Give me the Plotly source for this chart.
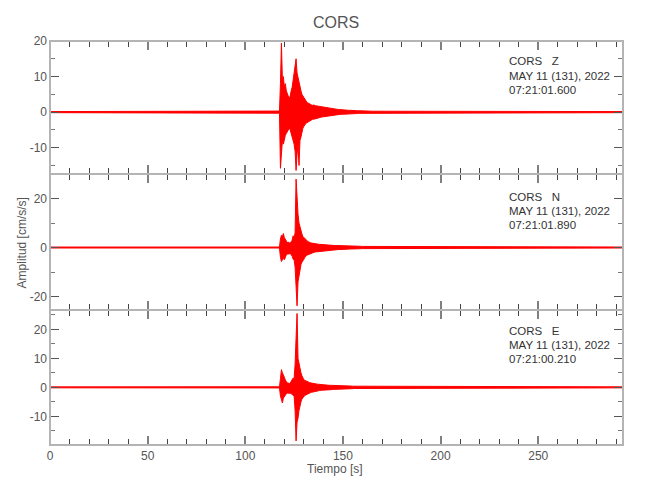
import plotly.graph_objects as go

# ---------------- data ----------------
CHANNELS = ["Z", "N", "E"]
STATION = "CORS"
DATE_TXT = "MAY 11 (131), 2022"
START_TIMES = ["07:21:01.600", "07:21:01.890", "07:21:00.210"]

# sampling grids (s): (start, step, count)
PRE_GRID = (0.0, 5.0, 24)      # quiet pre-event
FINE_GRID = (117.0, 0.5, 36)   # onset and strong motion
COARSE_GRID = (135.0, 1.0, 42)  # coda
POST_GRID = (180.0, 5.0, 24)   # quiet tail

# upper / lower envelope of the trace for each sample (cm/s/s)
Z_PRE_HI = [0.15] * 24
Z_PRE_LO = [-0.15] * 24
Z_FINE_HI = [0.2, 0.3, 8.0, 19.4, 9.0, 10.0, 7.0, 8.0, 6.0, 5.0,
             4.5, 4.0, 4.5, 6.0, 7.0, 9.0, 11.0, 12.5, 15.0, 11.0,
             9.5, 8.0, 7.5, 6.0, 5.0, 4.5, 4.0, 3.5, 3.2, 2.8,
             2.6, 2.4, 2.2, 2.1, 2.0, 1.9]
Z_FINE_LO = [-0.2, -0.3, -15.8, -12.0, -8.0, -9.0, -7.0, -6.5, -6.0, -5.5,
             -5.0, -4.5, -5.0, -6.0, -7.0, -8.0, -9.0, -11.0, -16.4, -12.0,
             -9.0, -15.0, -8.0, -7.0, -5.5, -4.5, -4.0, -3.5, -3.2, -3.0,
             -2.8, -2.6, -2.4, -2.2, -2.1, -2.0]
Z_COARSE_HI = [2.0, 1.8, 1.7, 1.5, 1.4, 1.3, 1.2, 1.1, 1.0, 1.0,
               0.9, 0.8, 0.8, 0.7, 0.7, 0.6, 0.6, 0.5, 0.5, 0.5,
               0.4, 0.4, 0.4, 0.4, 0.35, 0.35, 0.3, 0.3, 0.3, 0.3,
               0.25, 0.25, 0.25, 0.2, 0.2, 0.2, 0.2, 0.2, 0.15, 0.15, 0.15, 0.15]
Z_COARSE_LO = [-2.0, -1.8, -1.6, -1.5, -1.4, -1.3, -1.2, -1.1, -1.0, -1.0,
               -0.9, -0.8, -0.7, -0.7, -0.6, -0.6, -0.6, -0.5, -0.5, -0.5,
               -0.4, -0.4, -0.4, -0.35, -0.35, -0.3, -0.3, -0.3, -0.3, -0.3,
               -0.25, -0.25, -0.2, -0.2, -0.2, -0.2, -0.2, -0.15, -0.15, -0.15, -0.15, -0.15]
Z_POST_HI = [0.15] * 24
Z_POST_LO = [-0.15] * 24

N_PRE_HI = [0.2] * 24
N_PRE_LO = [-0.2] * 24
N_FINE_HI = [0.2, 0.2, 3.5, 5.0, 4.5, 5.7, 4.0, 3.5, 2.5, 2.0,
             2.2, 1.8, 2.0, 2.3, 3.0, 4.8, 4.0, 6.0, 27.9, 18.0,
             13.6, 10.0, 8.2, 6.5, 5.5, 4.5, 4.0, 3.5, 3.0, 2.7,
             2.5, 2.3, 2.0, 1.9, 1.8, 1.7]
N_FINE_LO = [-0.2, -0.2, -4.0, -5.7, -5.0, -4.5, -5.0, -3.5, -3.0, -2.7,
             -2.7, -2.5, -2.5, -3.0, -3.5, -4.8, -5.0, -8.0, -18.0, -23.8,
             -14.0, -11.0, -8.2, -7.0, -6.0, -5.0, -4.8, -4.0, -3.4, -3.2,
             -3.0, -2.8, -2.7, -2.5, -2.3, -2.2]
N_COARSE_HI = [1.6, 1.5, 1.4, 1.3, 1.2, 1.1, 1.1, 1.0, 1.0, 0.9,
               0.9, 0.8, 0.8, 0.8, 0.7, 0.7, 0.7, 0.6, 0.6, 0.6,
               0.6, 0.5, 0.5, 0.5, 0.5, 0.45, 0.45, 0.4, 0.4, 0.4,
               0.35, 0.35, 0.35, 0.3, 0.3, 0.3, 0.3, 0.25, 0.25, 0.25, 0.2, 0.2]
N_COARSE_LO = [-2.0, -1.8, -1.7, -1.6, -1.5, -1.3, -1.2, -1.1, -1.1, -1.0,
               -1.0, -0.9, -0.9, -0.8, -0.8, -0.7, -0.7, -0.7, -0.6, -0.6,
               -0.6, -0.5, -0.5, -0.5, -0.5, -0.45, -0.45, -0.4, -0.4, -0.4,
               -0.35, -0.35, -0.35, -0.3, -0.3, -0.3, -0.3, -0.25, -0.25, -0.25, -0.2, -0.2]
N_POST_HI = [0.2] * 24
N_POST_LO = [-0.2] * 24

E_PRE_HI = [0.17] * 24
E_PRE_LO = [-0.17] * 24
E_FINE_HI = [0.2, 0.2, 3.0, 6.1, 5.0, 4.4, 3.5, 2.5, 2.0, 1.5,
             1.5, 1.3, 1.5, 2.0, 2.5, 3.2, 3.0, 8.0, 17.0, 25.5,
             10.0, 8.0, 6.0, 5.0, 4.0, 3.2, 2.6, 2.4, 2.3, 2.1,
             2.0, 1.8, 1.6, 1.5, 1.5, 1.4]
E_FINE_LO = [-0.2, -0.2, -3.0, -4.5, -5.4, -3.7, -3.0, -2.5, -2.2, -2.0,
             -2.0, -1.8, -2.0, -2.2, -2.5, -2.5, -3.0, -8.0, -18.5, -12.0,
             -10.6, -8.0, -6.0, -5.0, -4.0, -3.5, -3.0, -2.8, -2.6, -2.4,
             -2.2, -2.0, -2.0, -1.8, -1.7, -1.6]
E_COARSE_HI = [1.3, 1.2, 1.1, 1.0, 0.9, 0.9, 0.8, 0.8, 0.7, 0.7,
               0.7, 0.6, 0.6, 0.6, 0.5, 0.5, 0.5, 0.5, 0.45, 0.45,
               0.4, 0.4, 0.4, 0.35, 0.35, 0.3, 0.3, 0.3, 0.3, 0.25,
               0.25, 0.25, 0.2, 0.2, 0.2, 0.2, 0.2, 0.17, 0.17, 0.17, 0.17, 0.17]
E_COARSE_LO = [-1.6, -1.4, -1.2, -1.1, -1.0, -1.0, -0.9, -0.9, -0.8, -0.8,
               -0.7, -0.7, -0.7, -0.6, -0.6, -0.6, -0.5, -0.5, -0.5, -0.5,
               -0.45, -0.4, -0.4, -0.4, -0.35, -0.35, -0.3, -0.3, -0.3, -0.3,
               -0.25, -0.25, -0.25, -0.2, -0.2, -0.2, -0.2, -0.2, -0.17, -0.17, -0.17, -0.17]
E_POST_HI = [0.17] * 24
E_POST_LO = [-0.17] * 24

# axes
X_RANGE = [0, 293.4]
X_MAJOR = [0, 50, 100, 150, 200, 250]
Y_RANGES = [[-17.4, 20.0], [-25.5, 30.0], [-19.9, 26.7]]
Y_TICKS = [[-10, 0, 10, 20], [-20, 0, 20], [-10, 0, 10, 20]]
Y_MINOR = [5, 10, 5]

# ---------------- build ----------------
def grid(g):
    start, step, n = g
    return [start + i * step for i in range(n)]

T_ALL = grid(PRE_GRID) + grid(FINE_GRID) + grid(COARSE_GRID) + grid(POST_GRID)
SERIES = [
    (Z_PRE_HI + Z_FINE_HI + Z_COARSE_HI + Z_POST_HI, Z_PRE_LO + Z_FINE_LO + Z_COARSE_LO + Z_POST_LO),
    (N_PRE_HI + N_FINE_HI + N_COARSE_HI + N_POST_HI, N_PRE_LO + N_FINE_LO + N_COARSE_LO + N_POST_LO),
    (E_PRE_HI + E_FINE_HI + E_COARSE_HI + E_POST_HI, E_PRE_LO + E_FINE_LO + E_COARSE_LO + E_POST_LO),
]

FONT = "Liberation Sans, Arial, sans-serif"
# the page body has an 8px margin: the figure starts at screen (8, 8)
OFF = 8
W, H = 634, 484
PLOT_L, PLOT_R, PLOT_T, PLOT_B = 49.6 - OFF, 623 - OFF, 41 - OFF, 445 - OFF
ML, MR, MT, MB = PLOT_L, W - PLOT_R, PLOT_T, H - PLOT_B
PW = W - ML - MR
PH = H - MT - MB
PANEL_SCREEN = [(41, 174), (174, 310), (310, 445)]
RED = "#ff0000"


def py2paper(screen_y):
    return (H - MB - (screen_y - OFF)) / PH


def px2paper(screen_x):
    return ((screen_x - OFF) - ML) / PW


fig = go.Figure()
layout = dict(
    width=W, height=H,
    margin=dict(l=ML, r=MR, t=MT, b=MB, pad=0, autoexpand=False),
    plot_bgcolor="white", paper_bgcolor="white",
    showlegend=False,
    font=dict(family=FONT, size=12, color="#555555"),
)
shapes = []

for i, ch in enumerate(CHANNELS):
    hi, lo = SERIES[i]
    ax = "" if i == 0 else str(i + 1)
    fig.add_trace(go.Scatter(x=T_ALL, y=hi, mode="lines",
                             line=dict(color=RED, width=1),
                             xaxis="x" + ax, yaxis="y" + ax, hoverinfo="skip"))
    fig.add_trace(go.Scatter(x=T_ALL, y=lo, mode="lines",
                             line=dict(color=RED, width=1),
                             fill="tonexty", fillcolor=RED,
                             xaxis="x" + ax, yaxis="y" + ax, hoverinfo="skip"))
    top, bot = PANEL_SCREEN[i]
    dom = [py2paper(bot), py2paper(top)]
    layout["xaxis" + ax] = dict(
        domain=[0, 1], anchor="y" + ax, range=X_RANGE,
        showgrid=False, zeroline=False, showline=False, mirror="allticks",
        ticks="inside", ticklen=9, tickwidth=1.5, tickcolor="#808080",
        tickvals=X_MAJOR, ticktext=[str(v) for v in X_MAJOR],
        showticklabels=(i == 2), ticklabelstandoff=2,
        tickfont=dict(family=FONT, size=12, color="#555555"),
        minor=dict(dtick=10, tick0=0, ticks="inside", ticklen=6,
                   tickwidth=1, tickcolor="#444444", showgrid=False),
    )
    if i > 0:
        layout["xaxis" + ax]["matches"] = "x"
    yt = Y_TICKS[i]
    layout["yaxis" + ax] = dict(
        domain=dom, anchor="x" + ax, range=Y_RANGES[i],
        showgrid=False, zeroline=False, showline=False, mirror="allticks",
        ticks="inside", ticklen=9, tickwidth=1, tickcolor="#555555",
        tickvals=yt, ticktext=[str(v) for v in yt], ticklabelstandoff=2,
        tickfont=dict(family=FONT, size=12, color="#555555"),
        minor=dict(dtick=Y_MINOR[i], tick0=0, ticks="inside", ticklen=5,
                   tickwidth=1, tickcolor="#777777", showgrid=False),
    )
    shapes.append(dict(type="rect", xref="x" + ax + " domain", yref="y" + ax + " domain",
                       x0=0, x1=1, y0=0, y1=1, layer="above",
                       line=dict(color="#b4b4b4", width=2), fillcolor="rgba(0,0,0,0)"))

fig.update_layout(**layout)

ann = []
ann.append(dict(text=STATION, xref="paper", yref="paper",
                x=px2paper(335.5), y=py2paper(23),
                xanchor="center", yanchor="middle", showarrow=False,
                font=dict(family=FONT, size=16, color="#555555")))
ann.append(dict(text="Tiempo [s]", xref="paper", yref="paper",
                x=px2paper(335), y=py2paper(469),
                xanchor="center", yanchor="middle", showarrow=False,
                font=dict(family=FONT, size=12, color="#555555")))
ann.append(dict(text="Amplitud [cm/s/s]", xref="paper", yref="paper",
                x=px2paper(22), y=py2paper(243),
                xanchor="center", yanchor="middle", showarrow=False, textangle=-90,
                font=dict(family=FONT, size=12, color="#555555")))
LINE_OFFS = [(20, 35, 49), (23, 37, 51), (21, 35, 49)]
for i, ch in enumerate(CHANNELS):
    top, _ = PANEL_SCREEN[i]
    lines = [STATION + "\u00a0\u00a0\u00a0" + ch, DATE_TXT, START_TIMES[i]]
    for txt, off in zip(lines, LINE_OFFS[i]):
        ann.append(dict(text=txt, xref="paper", yref="paper",
                        x=px2paper(507), y=py2paper(top + off),
                        xanchor="left", yanchor="middle", showarrow=False,
                        font=dict(family=FONT, size=11.5, color="#333333")))
fig.update_layout(annotations=ann, shapes=shapes)

fig.write_html("out.html")
